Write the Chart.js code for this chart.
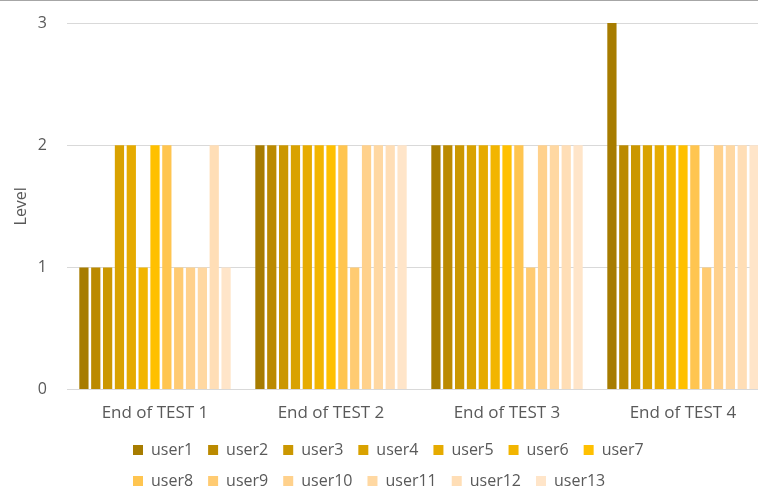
<!DOCTYPE html>
<html>
<head>
<meta charset="utf-8">
<script src="https://cdn.jsdelivr.net/npm/chart.js@4"></script>
<style>
  html, body { margin: 0; padding: 0; overflow: hidden; background: #fff; }
  body { width: 758px; height: 486px; border-top: 1px solid #a6a6a6; box-sizing: border-box; }
  canvas { display: block; }
</style>
</head>
<body>
<canvas id="grafico" width="790" height="485"></canvas>
<script>
const categories = ['End of TEST 1', 'End of TEST 2', 'End of TEST 3', 'End of TEST 4'];
const users = ['user1', 'user2', 'user3', 'user4', 'user5', 'user6', 'user7',
  'user8', 'user9', 'user10', 'user11', 'user12', 'user13'];

// nivel de cada usuario al final de cada test
const user1 = [1, 2, 2, 3];
const user2 = [1, 2, 2, 2];
const user3 = [1, 2, 2, 2];
const user4 = [2, 2, 2, 2];
const user5 = [2, 2, 2, 2];
const user6 = [1, 2, 2, 2];
const user7 = [2, 2, 2, 2];
const user8 = [2, 2, 2, 2];
const user9 = [1, 1, 1, 1];
const user10 = [1, 2, 2, 2];
const user11 = [1, 2, 2, 2];
const user12 = [2, 2, 2, 2];
const user13 = [1, 2, 2, 2];
const yTicks = [0, 1, 2, 3];

const series = [user1, user2, user3, user4, user5, user6, user7,
  user8, user9, user10, user11, user12, user13];
const colors = ['#a77c00', '#bb8a00', '#cb9700', '#d9a200', '#e6ab00', '#f2b500', '#ffc000',
  '#ffc550', '#ffcb72', '#ffd18c', '#ffd8a2', '#ffdeb6', '#ffe5c9'];

const textColor = '#595959';
const font = { family: 'Open Sans', size: 16 };
const bigFont = { family: 'Open Sans', size: 17 };

// mueve la leyenda para que las filas empiecen alineadas a la izquierda
const legendPos = {
  id: 'legendPos',
  afterLayout(chart) {
    const lg = chart.legend;
    lg.left = 118;
    lg.right = 700;
    lg.width = lg.right - lg.left;
    lg.top = 426;
  }
};

const ctx = document.getElementById('grafico').getContext('2d');
new Chart(ctx, {
  type: 'bar',
  data: {
    labels: categories,
    datasets: users.map((u, i) => ({
      label: u,
      data: series[i],
      backgroundColor: colors[i],
      borderWidth: 0,
      categoryPercentage: 0.875,
      barPercentage: 0.78,
    })),
  },
  options: {
    responsive: false,
    animation: false,
    layout: { padding: { left: 10, right: 19, top: 22, bottom: -22 } },
    plugins: {
      tooltip: { enabled: false },
      legend: {
        position: 'bottom',
        align: 'start',
        labels: {
          boxWidth: 10,
          boxHeight: 10,
          padding: 15,
          color: textColor,
          font: font,
        },
      },
    },
    scales: {
      x: {
        grid: { display: false, drawTicks: false },
        border: { display: false },
        ticks: { color: textColor, font: bigFont, padding: 13, maxRotation: 0 },
      },
      y: {
        min: 0,
        max: 3,
        afterBuildTicks: (axis) => { axis.ticks = yTicks.map(v => ({ value: v })); },
        afterFit: (axis) => {
          axis.width = 57;
          axis.paddingTop = 0;
          axis.paddingBottom = 0;
        },
        grid: { color: '#d9d9d9', lineWidth: 1, drawTicks: false },
        border: { display: false },
        ticks: { color: textColor, font: font, padding: 20 },
        title: {
          display: true,
          text: 'Level',
          color: textColor,
          font: font,
          padding: { top: 2, bottom: 9 },
        },
      },
    },
  },
  plugins: [legendPos],
});
</script>
</body>
</html>
